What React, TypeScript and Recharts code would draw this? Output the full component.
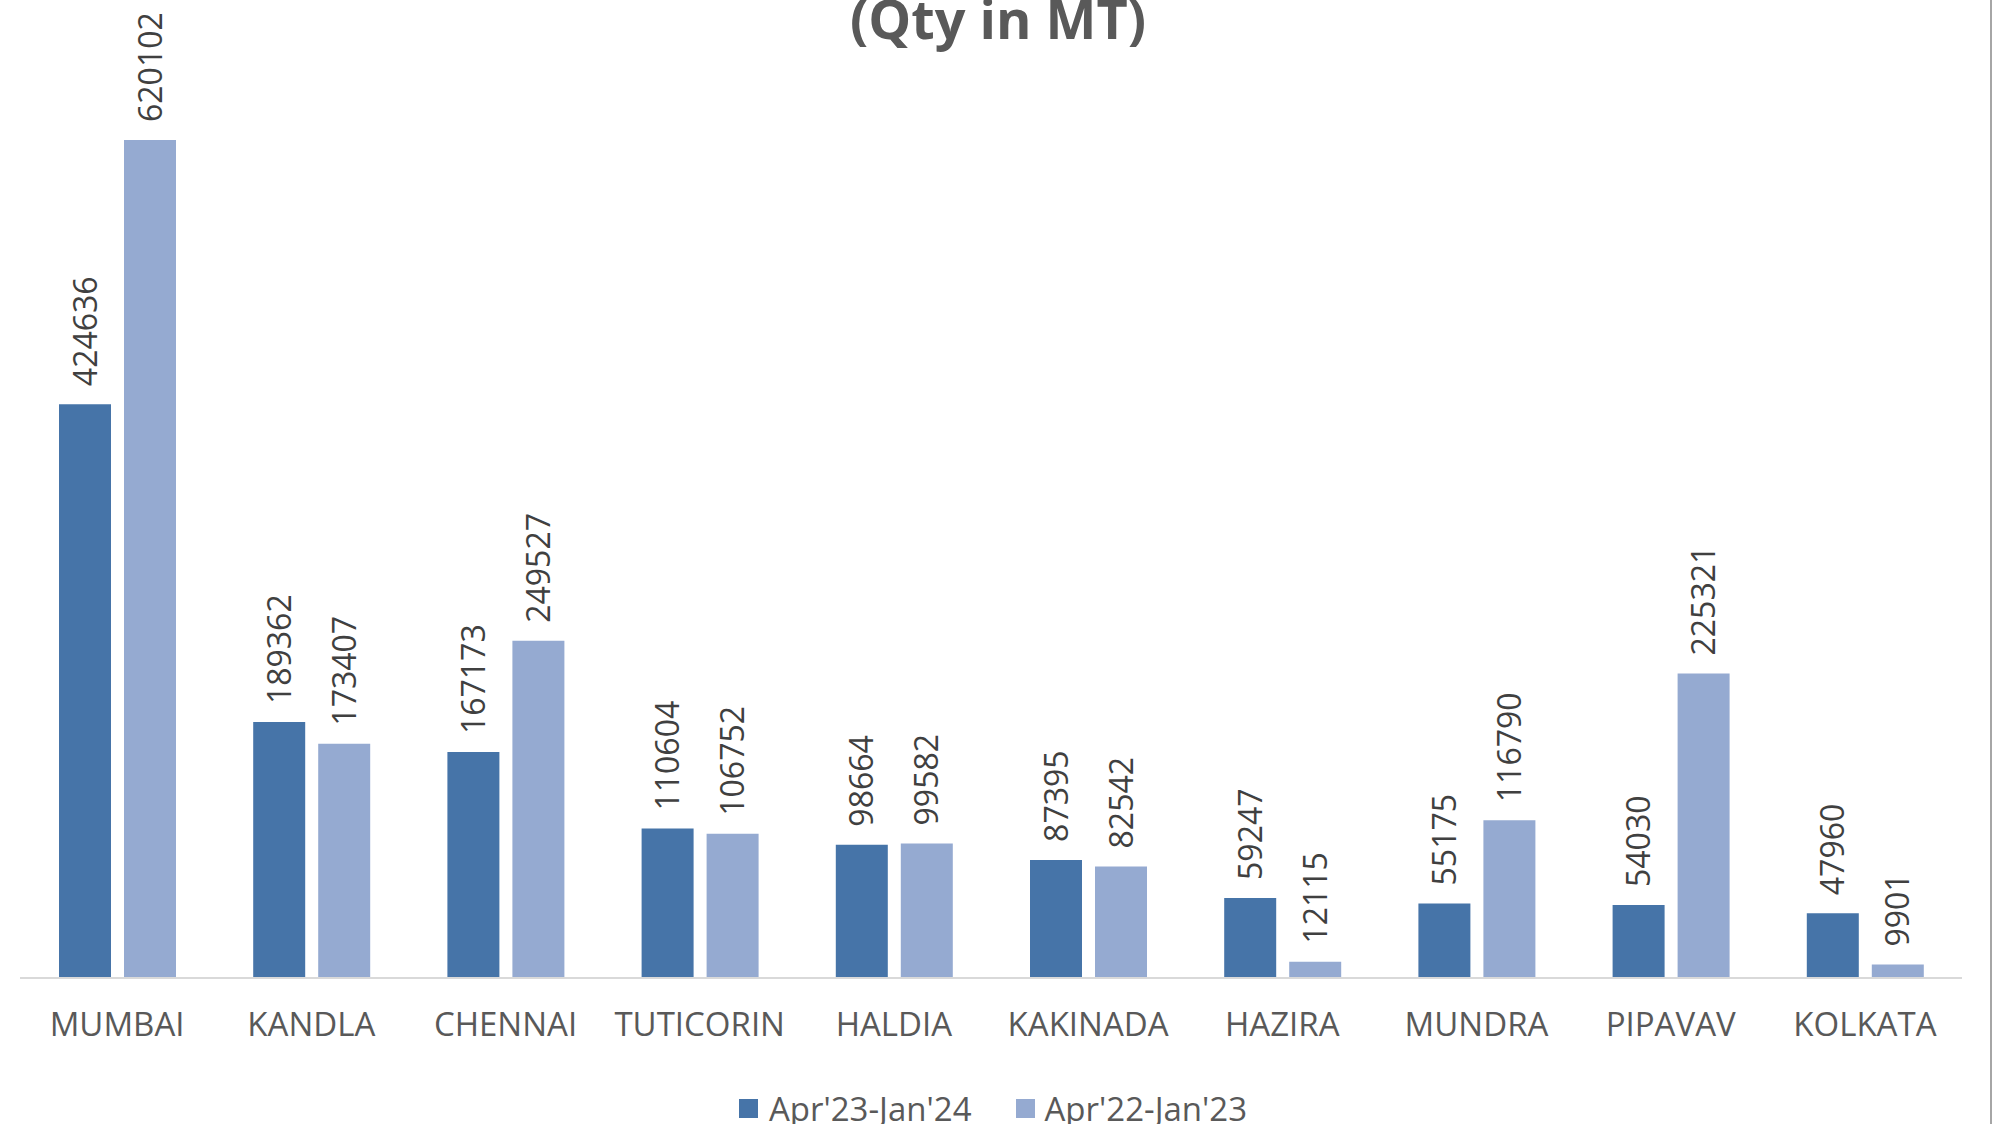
import React from "react";
import { Bar, BarChart, LabelList, Legend, XAxis, YAxis } from "recharts";

const ports = [
	"MUMBAI",
	"KANDLA",
	"CHENNAI",
	"TUTICORIN",
	"HALDIA",
	"KAKINADA",
	"HAZIRA",
	"MUNDRA",
	"PIPAVAV",
	"KOLKATA",
];
const current = [424636, 189362, 167173, 110604, 98664, 87395, 59247, 55175, 54030, 47960];
const previous = [620102, 173407, 249527, 106752, 99582, 82542, 12115, 116790, 225321, 9901];
const seriesNames = ["Apr'23-Jan'24", "Apr'22-Jan'23"];
const colors = ["#4674A8", "#95AAD1"];

const data = ports.map((port, i) => ({
	port,
	current: current[i],
	previous: previous[i],
}));

const font = "'Open Sans', sans-serif";

// rotated value label above each bar
const ValueLabel = (props: any) => {
	const { x, y, width, value } = props;
	const cx = x + width / 2;
	const cy = y - 18;
	return (
		<text
			x={cx}
			y={cy}
			transform={`rotate(-90, ${cx}, ${cy})`}
			textAnchor="start"
			dy="0.36em"
			fill="#404040"
			fontSize={32}
			fontFamily={font}>
			{value}
		</text>
	);
};

const PortTick = (props: any) => {
	const { x, y, payload } = props;
	return (
		<text
			x={x}
			y={y}
			dy={58}
			textAnchor="middle"
			fill="#595959"
			fontSize={33}
			fontFamily={font}>
			{payload.value}
		</text>
	);
};

const LegendBox = () => (
	<div
		style={{
			display: "flex",
			justifyContent: "center",
			alignItems: "center",
			height: 48,
			fontFamily: font,
			fontSize: 33,
			color: "#595959",
			paddingLeft: 4,
		}}>
		{seriesNames.map((name, i) => (
			<div
				key={name}
				style={{
					display: "flex",
					alignItems: "center",
					marginRight: i === 0 ? 44 : 0,
				}}>
				<span
					style={{
						width: 19,
						height: 19,
						background: colors[i],
						marginRight: i === 0 ? 11 : 10,
						display: "inline-block",
					}}
				/>
				<span>{name}</span>
			</div>
		))}
	</div>
);

const App = () => {
	return (
		<div
			style={{
				position: "absolute",
				left: 0,
				top: 0,
				width: 1992,
				height: 1124,
				overflow: "hidden",
				background: "#fff",
			}}>
			<BarChart
				width={1992}
				height={1160}
				data={data}
				margin={{ top: 32, right: 30, left: 20, bottom: 28 }}
				barSize={52}
				barGap={13}>
				<XAxis
					dataKey="port"
					height={106}
					tickLine={false}
					tickSize={0}
					tickMargin={0}
					axisLine={{ stroke: "#D9D9D9", strokeWidth: 2 }}
					tick={<PortTick />}
					interval={0}
				/>
				<YAxis hide domain={[0, 700000]} />
				<Legend verticalAlign="bottom" height={48} content={<LegendBox />} />
				<Bar dataKey="current" name={seriesNames[0]} fill={colors[0]} isAnimationActive={false}>
					<LabelList dataKey="current" content={<ValueLabel />} />
				</Bar>
				<Bar dataKey="previous" name={seriesNames[1]} fill={colors[1]} isAnimationActive={false}>
					<LabelList dataKey="previous" content={<ValueLabel />} />
				</Bar>
			</BarChart>
			<svg
				width={1992}
				height={1124}
				style={{ position: "absolute", left: 0, top: 0, pointerEvents: "none" }}>
				<text
					x={998}
					y={39}
					textAnchor="middle"
					fill="#595959"
					fontSize={54}
					fontWeight="bold"
					fontFamily={font}>
					(Qty in MT)
				</text>
				<line x1={1991} y1={0} x2={1991} y2={1124} stroke="#A6A6A6" strokeWidth={2} />
			</svg>
		</div>
	);
};

export default App;
